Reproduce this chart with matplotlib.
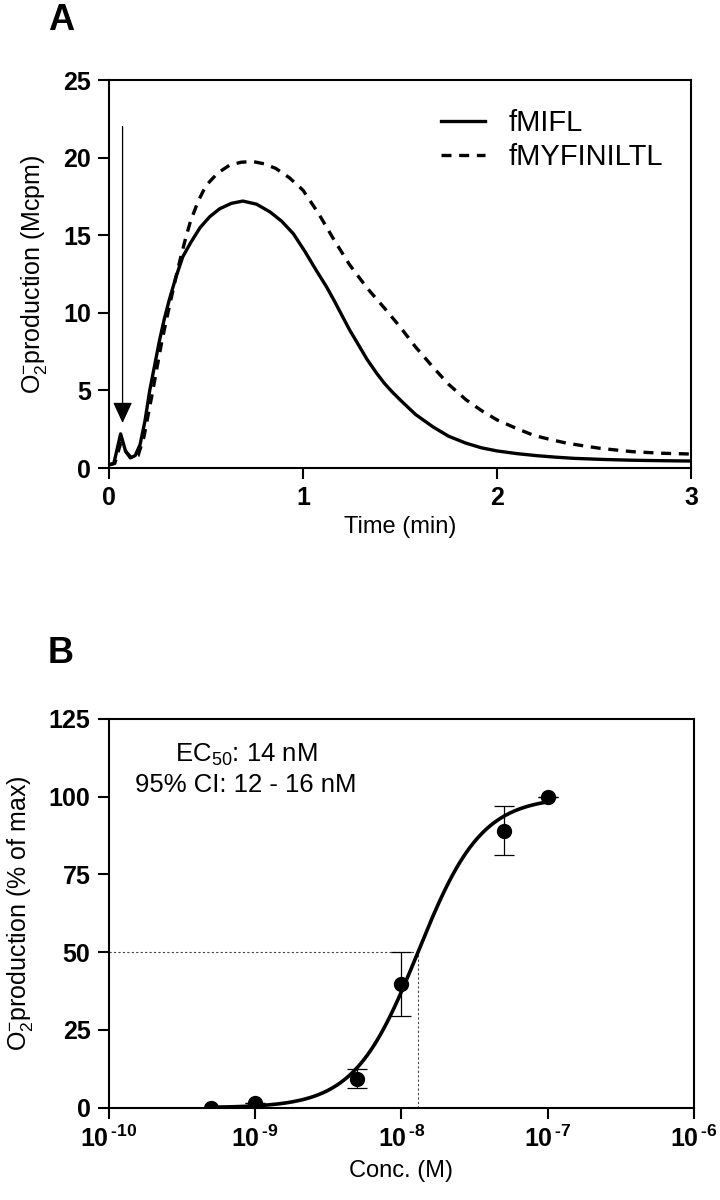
import numpy as np
import matplotlib
matplotlib.use("Agg")
import matplotlib.pyplot as plt

plt.rcParams['font.family'] = ['Liberation Sans', 'DejaVu Sans']
plt.rcParams['mathtext.fontset'] = 'custom'
plt.rcParams['mathtext.rm'] = 'Liberation Sans'
plt.rcParams['mathtext.it'] = 'Liberation Sans:italic'
plt.rcParams['mathtext.bf'] = 'Liberation Sans:bold'

# ---------------- Panel A data ----------------
time_fmifl = [0.0, 0.025, 0.06, 0.085, 0.11, 0.135, 0.16, 0.185, 0.21, 0.235, 0.26, 0.285,
              0.31, 0.345, 0.38, 0.42, 0.47, 0.52, 0.57, 0.63, 0.69, 0.76, 0.83, 0.89,
              0.95, 1.01, 1.07, 1.12, 1.16, 1.2, 1.24, 1.29, 1.33, 1.38, 1.42, 1.46,
              1.5, 1.58, 1.67, 1.75, 1.84, 1.92, 2.0, 2.1, 2.2, 2.3, 2.4, 2.55, 2.7,
              2.85, 3.0]
val_fmifl = [0.2, 0.3, 2.2, 1.1, 0.65, 0.8, 1.5, 3.0, 5.0, 6.6, 8.2, 9.6,
             10.8, 12.3, 13.6, 14.5, 15.5, 16.2, 16.7, 17.05, 17.2, 17.0, 16.5, 15.9,
             15.1, 13.95, 12.7, 11.7, 10.8, 9.85, 8.9, 7.85, 7.0, 6.1, 5.45, 4.9,
             4.4, 3.45, 2.65, 2.05, 1.6, 1.3, 1.1, 0.93, 0.8, 0.7, 0.62, 0.55, 0.5,
             0.47, 0.45]

time_fmyfin = [0.0, 0.03, 0.06, 0.09, 0.12, 0.15, 0.18, 0.22, 0.245, 0.27, 0.295, 0.32,
               0.345, 0.37, 0.395, 0.42, 0.46, 0.5, 0.56, 0.62, 0.68, 0.74, 0.8, 0.86,
               0.93, 1.0, 1.08, 1.16, 1.24, 1.33, 1.42, 1.5, 1.58, 1.67, 1.75, 1.84,
               1.92, 2.0, 2.1, 2.19, 2.28, 2.36, 2.45, 2.53, 2.62, 2.7, 2.85, 3.0]
val_fmyfin = [0.2, 0.3, 1.6, 1.0, 0.6, 0.8, 2.0, 4.6, 6.3, 8.0, 9.5, 10.9,
              12.3, 13.6, 14.8, 15.9, 17.2, 18.2, 19.0, 19.5, 19.7, 19.75, 19.6, 19.3,
              18.7, 17.9, 16.4, 14.7, 13.1, 11.6, 10.3, 9.1, 7.8, 6.5, 5.4, 4.4,
              3.7, 3.1, 2.55, 2.1, 1.82, 1.6, 1.42, 1.27, 1.15, 1.05, 0.95, 0.9]

series_labels = ["fMIFL", "fMYFINILTL"]
arrow_time = 0.07
arrow_from = 22.0
arrow_to = 2.9

# ---------------- Panel B data ----------------
conc = [5e-10, 1e-9, 5e-9, 1e-8, 5e-8, 1e-7]
response = [0.0, 1.5, 9.2, 39.7, 89.0, 100.0]
err_low = [0.0, 0.0, 3.0, 10.2, 7.8, 0.0]
err_high = [0.0, 0.0, 3.2, 10.3, 8.0, 0.0]
ec50_fit = 1.3e-8
hill = 2.0
top = 100.0
bottom = 0.0
xtick_exponents = ['10', '9', '8', '7', '6']

fig = plt.figure(figsize=(7.2, 12), dpi=100)

def style_axes(ax):
    for s in ax.spines.values():
        s.set_linewidth(1.5)
    ax.tick_params(axis='both', which='major', direction='out', length=8, width=1.5,
                   pad=5, labelsize=18)
    ax.tick_params(axis='both', which='minor', length=0)
    for lab in ax.get_xticklabels() + ax.get_yticklabels():
        lab.set_fontweight('bold')

# ---------------- Panel A ----------------
axA = fig.add_axes([109/720, 1 - 468/1200, 582/720, 388/1200])
axA.plot(time_fmifl, val_fmifl, color='black', lw=2.4, label=series_labels[0])
axA.plot(time_fmyfin, val_fmyfin, color='black', lw=2.4, dashes=(3, 2.3),
         label=series_labels[1])
axA.annotate('', xy=(arrow_time, arrow_to), xytext=(arrow_time, arrow_from),
             arrowprops=dict(arrowstyle='-|>,head_length=0.65,head_width=0.3',
                             color='black', lw=0.9, shrinkA=0, shrinkB=0,
                             mutation_scale=20))
axA.set_xlim(0, 3)
axA.set_ylim(0, 25)
axA.set_xticks([0, 1, 2, 3])
axA.set_yticks([0, 5, 10, 15, 20, 25])
style_axes(axA)
axA.set_xlabel('Time (min)', fontsize=17, labelpad=4)
axA.set_ylabel(r'O$_2^{-}$production (Mcpm)', fontsize=18, labelpad=10)
leg = axA.legend(loc='upper right', bbox_to_anchor=(0.997, 0.993), frameon=False,
                 fontsize=21, handlelength=1.5, handletextpad=0.8, labelspacing=0.2)
fig.text(48/720, 1 - 3/1200, 'A', fontsize=26, fontweight='bold', va='top', ha='left')

# ---------------- Panel B ----------------
axB = fig.add_axes([108.5/720, 1 - 1107.7/1200, 585.5/720, 388.7/1200])
axB.set_xscale('log')
xfit = np.logspace(np.log10(conc[0]), np.log10(conc[-1]), 300)
yfit = bottom + (top - bottom) / (1 + (ec50_fit / xfit) ** hill)
axB.plot(xfit, yfit, color='black', lw=2.6, zorder=3)
axB.errorbar(conc, response, yerr=[err_low, err_high], fmt='o', color='black',
             markersize=10, ecolor='black', elinewidth=0.9, capsize=7, capthick=0.9,
             zorder=4)
axB.plot([1e-10, ec50_fit], [50, 50], color='#444444', lw=0.8, ls=(0, (2, 2)), zorder=2)
axB.plot([ec50_fit, ec50_fit], [0, 50], color='#444444', lw=0.8, ls=(0, (2, 2)), zorder=2)
axB.set_xlim(1e-10, 1e-6)
axB.set_ylim(0, 125)
axB.set_yticks([0, 25, 50, 75, 100, 125])
axB.set_xticks([1e-10, 1e-9, 1e-8, 1e-7, 1e-6])
axB.set_xticklabels(['$\\mathbf{10^{\\,\u2010' + e + '}}$' for e in xtick_exponents])
style_axes(axB)
axB.set_xlabel('Conc. (M)', fontsize=17, labelpad=6)
axB.set_ylabel(r'O$_2^{-}$production (% of max)', fontsize=18, labelpad=10)
axB.text(0.235, 0.87, 'EC$_{50}$: 14 nM\n95% CI: 12 - 16 nM', transform=axB.transAxes,
         fontsize=18.5, ha='center', va='center', linespacing=1.25)
fig.text(48/720, 1 - 636/1200, 'B', fontsize=26, fontweight='bold', va='top', ha='left')

fig.savefig('out.png', dpi=100)
